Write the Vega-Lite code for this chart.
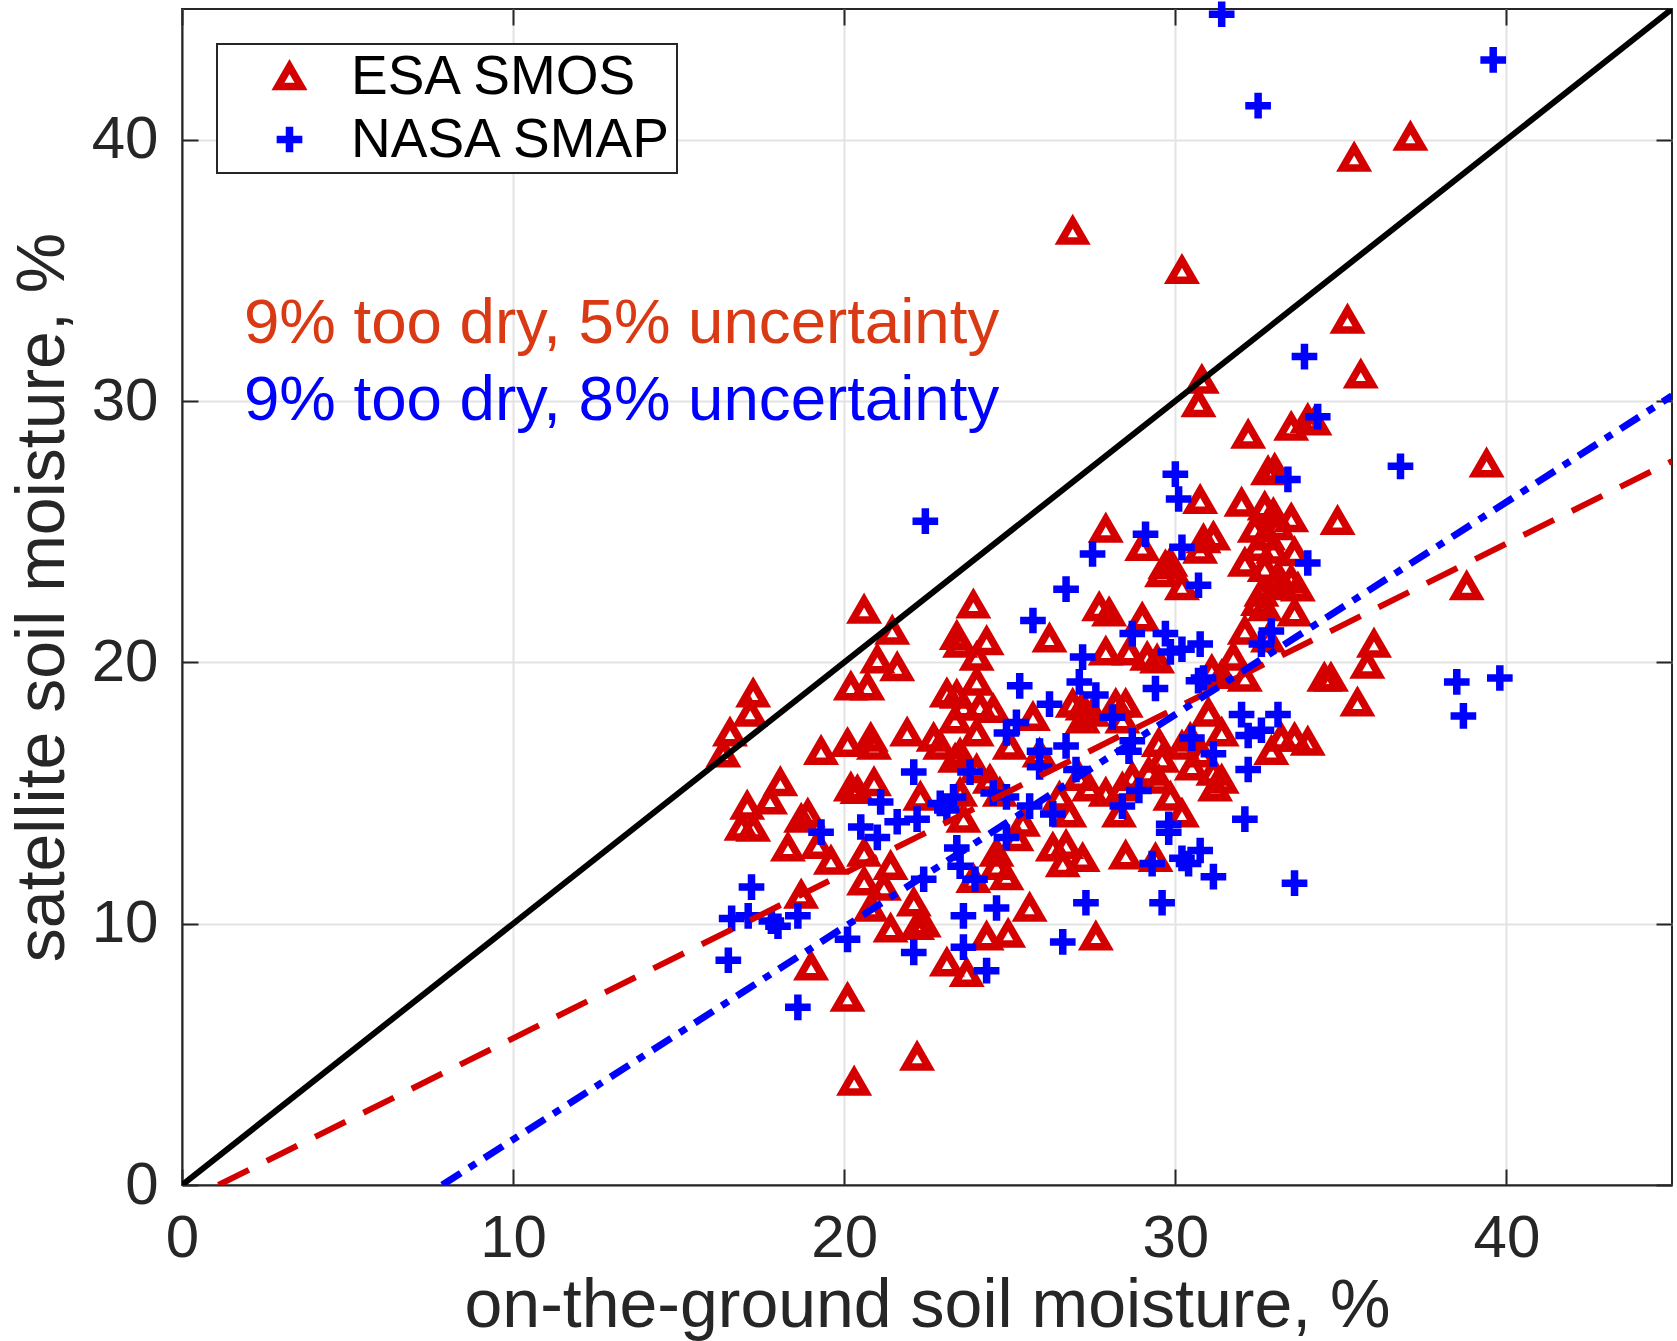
{
"$schema": "https://vega.github.io/schema/vega-lite/v6.json",
"autosize": {"type": "none"},
"width": 1490, "height": 1176,
"padding": {"left": 182, "top": 9, "right": 5, "bottom": 156},
"background": "white",
"datasets": {
"pts": [
{"ground":37.1,"satellite":40.1,"sensor":"ESA SMOS"},
{"ground":35.4,"satellite":39.3,"sensor":"ESA SMOS"},
{"ground":26.9,"satellite":36.5,"sensor":"ESA SMOS"},
{"ground":30.2,"satellite":35.0,"sensor":"ESA SMOS"},
{"ground":35.2,"satellite":33.1,"sensor":"ESA SMOS"},
{"ground":35.6,"satellite":31.0,"sensor":"ESA SMOS"},
{"ground":30.8,"satellite":30.8,"sensor":"ESA SMOS"},
{"ground":30.7,"satellite":29.9,"sensor":"ESA SMOS"},
{"ground":32.2,"satellite":28.7,"sensor":"ESA SMOS"},
{"ground":33.5,"satellite":29.0,"sensor":"ESA SMOS"},
{"ground":34.0,"satellite":29.3,"sensor":"ESA SMOS"},
{"ground":34.2,"satellite":29.2,"sensor":"ESA SMOS"},
{"ground":39.4,"satellite":27.6,"sensor":"ESA SMOS"},
{"ground":32.8,"satellite":27.3,"sensor":"ESA SMOS"},
{"ground":33.0,"satellite":27.4,"sensor":"ESA SMOS"},
{"ground":30.75,"satellite":26.2,"sensor":"ESA SMOS"},
{"ground":32.0,"satellite":26.1,"sensor":"ESA SMOS"},
{"ground":32.7,"satellite":25.95,"sensor":"ESA SMOS"},
{"ground":32.96,"satellite":25.7,"sensor":"ESA SMOS"},
{"ground":33.5,"satellite":25.5,"sensor":"ESA SMOS"},
{"ground":34.9,"satellite":25.4,"sensor":"ESA SMOS"},
{"ground":27.9,"satellite":25.1,"sensor":"ESA SMOS"},
{"ground":29.0,"satellite":24.4,"sensor":"ESA SMOS"},
{"ground":30.85,"satellite":24.7,"sensor":"ESA SMOS"},
{"ground":31.15,"satellite":24.8,"sensor":"ESA SMOS"},
{"ground":30.75,"satellite":24.3,"sensor":"ESA SMOS"},
{"ground":29.7,"satellite":23.7,"sensor":"ESA SMOS"},
{"ground":29.85,"satellite":23.8,"sensor":"ESA SMOS"},
{"ground":29.6,"satellite":23.4,"sensor":"ESA SMOS"},
{"ground":30.2,"satellite":22.9,"sensor":"ESA SMOS"},
{"ground":32.4,"satellite":25.1,"sensor":"ESA SMOS"},
{"ground":32.8,"satellite":24.8,"sensor":"ESA SMOS"},
{"ground":33.1,"satellite":25.2,"sensor":"ESA SMOS"},
{"ground":32.5,"satellite":24.4,"sensor":"ESA SMOS"},
{"ground":32.96,"satellite":24.3,"sensor":"ESA SMOS"},
{"ground":33.6,"satellite":24.2,"sensor":"ESA SMOS"},
{"ground":32.1,"satellite":23.8,"sensor":"ESA SMOS"},
{"ground":32.7,"satellite":23.6,"sensor":"ESA SMOS"},
{"ground":33.1,"satellite":23.3,"sensor":"ESA SMOS"},
{"ground":33.5,"satellite":23.15,"sensor":"ESA SMOS"},
{"ground":32.6,"satellite":22.65,"sensor":"ESA SMOS"},
{"ground":38.8,"satellite":22.9,"sensor":"ESA SMOS"},
{"ground":33.2,"satellite":22.9,"sensor":"ESA SMOS"},
{"ground":33.7,"satellite":22.85,"sensor":"ESA SMOS"},
{"ground":32.5,"satellite":22.3,"sensor":"ESA SMOS"},
{"ground":32.7,"satellite":22.1,"sensor":"ESA SMOS"},
{"ground":33.6,"satellite":21.9,"sensor":"ESA SMOS"},
{"ground":32.1,"satellite":21.2,"sensor":"ESA SMOS"},
{"ground":32.8,"satellite":20.9,"sensor":"ESA SMOS"},
{"ground":36.0,"satellite":20.7,"sensor":"ESA SMOS"},
{"ground":35.8,"satellite":19.9,"sensor":"ESA SMOS"},
{"ground":34.5,"satellite":19.4,"sensor":"ESA SMOS"},
{"ground":34.7,"satellite":19.4,"sensor":"ESA SMOS"},
{"ground":35.5,"satellite":18.45,"sensor":"ESA SMOS"},
{"ground":31.75,"satellite":20.2,"sensor":"ESA SMOS"},
{"ground":31.1,"satellite":19.7,"sensor":"ESA SMOS"},
{"ground":31.4,"satellite":19.5,"sensor":"ESA SMOS"},
{"ground":32.1,"satellite":19.4,"sensor":"ESA SMOS"},
{"ground":31.4,"satellite":17.3,"sensor":"ESA SMOS"},
{"ground":33.2,"satellite":17.1,"sensor":"ESA SMOS"},
{"ground":33.6,"satellite":17.1,"sensor":"ESA SMOS"},
{"ground":34.0,"satellite":16.95,"sensor":"ESA SMOS"},
{"ground":32.9,"satellite":16.6,"sensor":"ESA SMOS"},
{"ground":31.15,"satellite":15.8,"sensor":"ESA SMOS"},
{"ground":31.4,"satellite":15.5,"sensor":"ESA SMOS"},
{"ground":31.2,"satellite":15.2,"sensor":"ESA SMOS"},
{"ground":27.7,"satellite":22.1,"sensor":"ESA SMOS"},
{"ground":28.0,"satellite":21.9,"sensor":"ESA SMOS"},
{"ground":29.0,"satellite":21.7,"sensor":"ESA SMOS"},
{"ground":23.9,"satellite":22.2,"sensor":"ESA SMOS"},
{"ground":23.5,"satellite":20.7,"sensor":"ESA SMOS"},
{"ground":24.3,"satellite":20.8,"sensor":"ESA SMOS"},
{"ground":24.0,"satellite":20.2,"sensor":"ESA SMOS"},
{"ground":26.2,"satellite":20.9,"sensor":"ESA SMOS"},
{"ground":27.9,"satellite":20.4,"sensor":"ESA SMOS"},
{"ground":28.6,"satellite":20.4,"sensor":"ESA SMOS"},
{"ground":29.15,"satellite":20.2,"sensor":"ESA SMOS"},
{"ground":29.45,"satellite":20.1,"sensor":"ESA SMOS"},
{"ground":24.0,"satellite":19.25,"sensor":"ESA SMOS"},
{"ground":23.4,"satellite":18.75,"sensor":"ESA SMOS"},
{"ground":23.6,"satellite":18.3,"sensor":"ESA SMOS"},
{"ground":24.1,"satellite":18.3,"sensor":"ESA SMOS"},
{"ground":24.5,"satellite":18.2,"sensor":"ESA SMOS"},
{"ground":23.35,"satellite":17.8,"sensor":"ESA SMOS"},
{"ground":24.0,"satellite":17.3,"sensor":"ESA SMOS"},
{"ground":25.7,"satellite":17.9,"sensor":"ESA SMOS"},
{"ground":26.9,"satellite":18.4,"sensor":"ESA SMOS"},
{"ground":27.2,"satellite":18.3,"sensor":"ESA SMOS"},
{"ground":27.5,"satellite":18.06,"sensor":"ESA SMOS"},
{"ground":27.2,"satellite":17.8,"sensor":"ESA SMOS"},
{"ground":28.2,"satellite":18.4,"sensor":"ESA SMOS"},
{"ground":28.5,"satellite":18.4,"sensor":"ESA SMOS"},
{"ground":28.4,"satellite":17.8,"sensor":"ESA SMOS"},
{"ground":25.0,"satellite":16.8,"sensor":"ESA SMOS"},
{"ground":25.9,"satellite":16.5,"sensor":"ESA SMOS"},
{"ground":23.5,"satellite":16.5,"sensor":"ESA SMOS"},
{"ground":24.0,"satellite":15.9,"sensor":"ESA SMOS"},
{"ground":23.35,"satellite":16.3,"sensor":"ESA SMOS"},
{"ground":27.1,"satellite":15.6,"sensor":"ESA SMOS"},
{"ground":27.4,"satellite":15.2,"sensor":"ESA SMOS"},
{"ground":27.9,"satellite":15.0,"sensor":"ESA SMOS"},
{"ground":29.5,"satellite":16.9,"sensor":"ESA SMOS"},
{"ground":29.6,"satellite":16.3,"sensor":"ESA SMOS"},
{"ground":29.2,"satellite":15.8,"sensor":"ESA SMOS"},
{"ground":29.5,"satellite":15.5,"sensor":"ESA SMOS"},
{"ground":28.7,"satellite":15.6,"sensor":"ESA SMOS"},
{"ground":28.4,"satellite":15.2,"sensor":"ESA SMOS"},
{"ground":30.2,"satellite":16.8,"sensor":"ESA SMOS"},
{"ground":30.45,"satellite":17.1,"sensor":"ESA SMOS"},
{"ground":30.5,"satellite":16.0,"sensor":"ESA SMOS"},
{"ground":30.8,"satellite":16.5,"sensor":"ESA SMOS"},
{"ground":29.85,"satellite":14.85,"sensor":"ESA SMOS"},
{"ground":30.2,"satellite":14.2,"sensor":"ESA SMOS"},
{"ground":28.3,"satellite":14.2,"sensor":"ESA SMOS"},
{"ground":26.5,"satellite":14.85,"sensor":"ESA SMOS"},
{"ground":26.8,"satellite":14.2,"sensor":"ESA SMOS"},
{"ground":24.7,"satellite":15.0,"sensor":"ESA SMOS"},
{"ground":24.4,"satellite":15.5,"sensor":"ESA SMOS"},
{"ground":23.5,"satellite":15.0,"sensor":"ESA SMOS"},
{"ground":23.6,"satellite":14.0,"sensor":"ESA SMOS"},
{"ground":25.4,"satellite":13.85,"sensor":"ESA SMOS"},
{"ground":31.0,"satellite":18.06,"sensor":"ESA SMOS"},
{"ground":20.6,"satellite":22.0,"sensor":"ESA SMOS"},
{"ground":21.45,"satellite":21.2,"sensor":"ESA SMOS"},
{"ground":21.0,"satellite":20.1,"sensor":"ESA SMOS"},
{"ground":21.6,"satellite":19.8,"sensor":"ESA SMOS"},
{"ground":20.2,"satellite":19.06,"sensor":"ESA SMOS"},
{"ground":20.7,"satellite":19.06,"sensor":"ESA SMOS"},
{"ground":17.25,"satellite":18.8,"sensor":"ESA SMOS"},
{"ground":17.16,"satellite":18.06,"sensor":"ESA SMOS"},
{"ground":16.55,"satellite":17.3,"sensor":"ESA SMOS"},
{"ground":16.35,"satellite":16.5,"sensor":"ESA SMOS"},
{"ground":21.9,"satellite":17.3,"sensor":"ESA SMOS"},
{"ground":23.1,"satellite":18.8,"sensor":"ESA SMOS"},
{"ground":23.4,"satellite":21.0,"sensor":"ESA SMOS"},
{"ground":20.1,"satellite":16.9,"sensor":"ESA SMOS"},
{"ground":20.8,"satellite":17.1,"sensor":"ESA SMOS"},
{"ground":20.9,"satellite":16.8,"sensor":"ESA SMOS"},
{"ground":19.3,"satellite":16.6,"sensor":"ESA SMOS"},
{"ground":22.7,"satellite":17.1,"sensor":"ESA SMOS"},
{"ground":22.9,"satellite":16.8,"sensor":"ESA SMOS"},
{"ground":18.07,"satellite":15.4,"sensor":"ESA SMOS"},
{"ground":17.07,"satellite":14.5,"sensor":"ESA SMOS"},
{"ground":17.76,"satellite":14.7,"sensor":"ESA SMOS"},
{"ground":20.2,"satellite":15.2,"sensor":"ESA SMOS"},
{"ground":20.4,"satellite":15.1,"sensor":"ESA SMOS"},
{"ground":20.9,"satellite":15.4,"sensor":"ESA SMOS"},
{"ground":18.7,"satellite":14.0,"sensor":"ESA SMOS"},
{"ground":18.9,"satellite":14.2,"sensor":"ESA SMOS"},
{"ground":16.9,"satellite":13.7,"sensor":"ESA SMOS"},
{"ground":17.25,"satellite":13.66,"sensor":"ESA SMOS"},
{"ground":22.3,"satellite":14.85,"sensor":"ESA SMOS"},
{"ground":18.3,"satellite":12.9,"sensor":"ESA SMOS"},
{"ground":19.2,"satellite":13.0,"sensor":"ESA SMOS"},
{"ground":19.6,"satellite":12.4,"sensor":"ESA SMOS"},
{"ground":20.6,"satellite":12.7,"sensor":"ESA SMOS"},
{"ground":21.4,"satellite":12.2,"sensor":"ESA SMOS"},
{"ground":20.6,"satellite":11.6,"sensor":"ESA SMOS"},
{"ground":21.2,"satellite":11.4,"sensor":"ESA SMOS"},
{"ground":18.7,"satellite":11.1,"sensor":"ESA SMOS"},
{"ground":22.1,"satellite":10.8,"sensor":"ESA SMOS"},
{"ground":20.8,"satellite":10.6,"sensor":"ESA SMOS"},
{"ground":22.4,"satellite":10.0,"sensor":"ESA SMOS"},
{"ground":21.4,"satellite":9.8,"sensor":"ESA SMOS"},
{"ground":22.2,"satellite":9.9,"sensor":"ESA SMOS"},
{"ground":23.1,"satellite":8.5,"sensor":"ESA SMOS"},
{"ground":19.0,"satellite":8.35,"sensor":"ESA SMOS"},
{"ground":20.1,"satellite":7.15,"sensor":"ESA SMOS"},
{"ground":22.2,"satellite":4.9,"sensor":"ESA SMOS"},
{"ground":20.3,"satellite":3.94,"sensor":"ESA SMOS"},
{"ground":23.7,"satellite":8.1,"sensor":"ESA SMOS"},
{"ground":25.2,"satellite":13.3,"sensor":"ESA SMOS"},
{"ground":24.6,"satellite":12.7,"sensor":"ESA SMOS"},
{"ground":24.6,"satellite":12.2,"sensor":"ESA SMOS"},
{"ground":24.9,"satellite":11.8,"sensor":"ESA SMOS"},
{"ground":23.9,"satellite":11.7,"sensor":"ESA SMOS"},
{"ground":26.3,"satellite":12.9,"sensor":"ESA SMOS"},
{"ground":26.7,"satellite":13.0,"sensor":"ESA SMOS"},
{"ground":26.6,"satellite":12.3,"sensor":"ESA SMOS"},
{"ground":27.2,"satellite":12.5,"sensor":"ESA SMOS"},
{"ground":28.5,"satellite":12.6,"sensor":"ESA SMOS"},
{"ground":29.4,"satellite":12.5,"sensor":"ESA SMOS"},
{"ground":25.6,"satellite":10.6,"sensor":"ESA SMOS"},
{"ground":24.3,"satellite":9.5,"sensor":"ESA SMOS"},
{"ground":24.95,"satellite":9.6,"sensor":"ESA SMOS"},
{"ground":27.6,"satellite":9.5,"sensor":"ESA SMOS"},
{"ground":31.4,"satellite":44.8,"sensor":"NASA SMAP"},
{"ground":32.5,"satellite":41.3,"sensor":"NASA SMAP"},
{"ground":39.6,"satellite":43.05,"sensor":"NASA SMAP"},
{"ground":33.9,"satellite":31.7,"sensor":"NASA SMAP"},
{"ground":34.3,"satellite":29.4,"sensor":"NASA SMAP"},
{"ground":36.8,"satellite":27.5,"sensor":"NASA SMAP"},
{"ground":33.4,"satellite":27.0,"sensor":"NASA SMAP"},
{"ground":34.0,"satellite":23.8,"sensor":"NASA SMAP"},
{"ground":30.0,"satellite":27.2,"sensor":"NASA SMAP"},
{"ground":30.1,"satellite":26.25,"sensor":"NASA SMAP"},
{"ground":29.1,"satellite":24.9,"sensor":"NASA SMAP"},
{"ground":27.5,"satellite":24.15,"sensor":"NASA SMAP"},
{"ground":30.2,"satellite":24.4,"sensor":"NASA SMAP"},
{"ground":26.7,"satellite":22.8,"sensor":"NASA SMAP"},
{"ground":30.7,"satellite":22.95,"sensor":"NASA SMAP"},
{"ground":22.45,"satellite":25.4,"sensor":"NASA SMAP"},
{"ground":25.7,"satellite":21.6,"sensor":"NASA SMAP"},
{"ground":28.7,"satellite":21.1,"sensor":"NASA SMAP"},
{"ground":29.7,"satellite":21.1,"sensor":"NASA SMAP"},
{"ground":29.85,"satellite":20.4,"sensor":"NASA SMAP"},
{"ground":30.2,"satellite":20.5,"sensor":"NASA SMAP"},
{"ground":30.75,"satellite":20.7,"sensor":"NASA SMAP"},
{"ground":27.2,"satellite":20.2,"sensor":"NASA SMAP"},
{"ground":27.1,"satellite":19.25,"sensor":"NASA SMAP"},
{"ground":27.6,"satellite":18.75,"sensor":"NASA SMAP"},
{"ground":25.3,"satellite":19.1,"sensor":"NASA SMAP"},
{"ground":29.4,"satellite":19.0,"sensor":"NASA SMAP"},
{"ground":30.7,"satellite":19.3,"sensor":"NASA SMAP"},
{"ground":26.2,"satellite":18.4,"sensor":"NASA SMAP"},
{"ground":28.1,"satellite":17.9,"sensor":"NASA SMAP"},
{"ground":25.2,"satellite":17.7,"sensor":"NASA SMAP"},
{"ground":24.9,"satellite":17.3,"sensor":"NASA SMAP"},
{"ground":28.7,"satellite":17.0,"sensor":"NASA SMAP"},
{"ground":28.6,"satellite":16.6,"sensor":"NASA SMAP"},
{"ground":30.5,"satellite":17.1,"sensor":"NASA SMAP"},
{"ground":25.9,"satellite":16.6,"sensor":"NASA SMAP"},
{"ground":25.9,"satellite":16.0,"sensor":"NASA SMAP"},
{"ground":26.7,"satellite":16.8,"sensor":"NASA SMAP"},
{"ground":23.8,"satellite":15.8,"sensor":"NASA SMAP"},
{"ground":27.0,"satellite":15.9,"sensor":"NASA SMAP"},
{"ground":24.5,"satellite":15.0,"sensor":"NASA SMAP"},
{"ground":24.9,"satellite":14.85,"sensor":"NASA SMAP"},
{"ground":25.6,"satellite":14.5,"sensor":"NASA SMAP"},
{"ground":26.3,"satellite":14.2,"sensor":"NASA SMAP"},
{"ground":28.9,"satellite":15.1,"sensor":"NASA SMAP"},
{"ground":28.4,"satellite":14.5,"sensor":"NASA SMAP"},
{"ground":29.8,"satellite":13.8,"sensor":"NASA SMAP"},
{"ground":23.3,"satellite":14.85,"sensor":"NASA SMAP"},
{"ground":32.9,"satellite":21.2,"sensor":"NASA SMAP"},
{"ground":32.6,"satellite":20.7,"sensor":"NASA SMAP"},
{"ground":30.85,"satellite":19.4,"sensor":"NASA SMAP"},
{"ground":32.0,"satellite":18.0,"sensor":"NASA SMAP"},
{"ground":33.1,"satellite":18.0,"sensor":"NASA SMAP"},
{"ground":32.2,"satellite":17.2,"sensor":"NASA SMAP"},
{"ground":32.6,"satellite":17.4,"sensor":"NASA SMAP"},
{"ground":31.15,"satellite":16.5,"sensor":"NASA SMAP"},
{"ground":32.2,"satellite":15.9,"sensor":"NASA SMAP"},
{"ground":32.1,"satellite":14.0,"sensor":"NASA SMAP"},
{"ground":38.5,"satellite":19.25,"sensor":"NASA SMAP"},
{"ground":39.8,"satellite":19.4,"sensor":"NASA SMAP"},
{"ground":38.7,"satellite":17.95,"sensor":"NASA SMAP"},
{"ground":31.15,"satellite":11.8,"sensor":"NASA SMAP"},
{"ground":33.6,"satellite":11.55,"sensor":"NASA SMAP"},
{"ground":30.75,"satellite":12.8,"sensor":"NASA SMAP"},
{"ground":22.1,"satellite":15.8,"sensor":"NASA SMAP"},
{"ground":21.1,"satellite":14.66,"sensor":"NASA SMAP"},
{"ground":21.6,"satellite":13.9,"sensor":"NASA SMAP"},
{"ground":20.5,"satellite":13.7,"sensor":"NASA SMAP"},
{"ground":22.2,"satellite":14.0,"sensor":"NASA SMAP"},
{"ground":22.9,"satellite":14.6,"sensor":"NASA SMAP"},
{"ground":23.1,"satellite":14.35,"sensor":"NASA SMAP"},
{"ground":19.3,"satellite":13.5,"sensor":"NASA SMAP"},
{"ground":21.0,"satellite":13.3,"sensor":"NASA SMAP"},
{"ground":17.2,"satellite":11.4,"sensor":"NASA SMAP"},
{"ground":16.6,"satellite":10.2,"sensor":"NASA SMAP"},
{"ground":17.1,"satellite":10.3,"sensor":"NASA SMAP"},
{"ground":17.8,"satellite":10.1,"sensor":"NASA SMAP"},
{"ground":18.0,"satellite":9.9,"sensor":"NASA SMAP"},
{"ground":18.6,"satellite":10.3,"sensor":"NASA SMAP"},
{"ground":16.5,"satellite":8.6,"sensor":"NASA SMAP"},
{"ground":20.1,"satellite":9.4,"sensor":"NASA SMAP"},
{"ground":18.6,"satellite":6.8,"sensor":"NASA SMAP"},
{"ground":22.1,"satellite":8.9,"sensor":"NASA SMAP"},
{"ground":22.4,"satellite":11.7,"sensor":"NASA SMAP"},
{"ground":24.9,"satellite":13.3,"sensor":"NASA SMAP"},
{"ground":23.4,"satellite":12.9,"sensor":"NASA SMAP"},
{"ground":23.5,"satellite":12.2,"sensor":"NASA SMAP"},
{"ground":23.95,"satellite":11.7,"sensor":"NASA SMAP"},
{"ground":24.6,"satellite":10.6,"sensor":"NASA SMAP"},
{"ground":23.6,"satellite":10.3,"sensor":"NASA SMAP"},
{"ground":27.3,"satellite":10.8,"sensor":"NASA SMAP"},
{"ground":29.6,"satellite":10.8,"sensor":"NASA SMAP"},
{"ground":29.3,"satellite":12.3,"sensor":"NASA SMAP"},
{"ground":30.2,"satellite":12.5,"sensor":"NASA SMAP"},
{"ground":30.4,"satellite":12.3,"sensor":"NASA SMAP"},
{"ground":26.6,"satellite":9.3,"sensor":"NASA SMAP"},
{"ground":23.6,"satellite":9.1,"sensor":"NASA SMAP"},
{"ground":24.3,"satellite":8.2,"sensor":"NASA SMAP"},
{"ground":29.8,"satellite":13.5,"sensor":"NASA SMAP"}
],
"lines": [
{"line":"one-to-one","ground":0,"satellite":0},
{"line":"one-to-one","ground":45,"satellite":45},
{"line":"ESA fit","ground":1.1,"satellite":0},
{"line":"ESA fit","ground":45,"satellite":27.7},
{"line":"SMAP fit","ground":7.86,"satellite":0},
{"line":"SMAP fit","ground":45,"satellite":30.2}
],
"notes": [
{"ground":1.87,"satellite":32.95,"sensor":"ESA SMOS","note":"9% too dry, 5% uncertainty"},
{"ground":1.87,"satellite":30.0,"sensor":"NASA SMAP","note":"9% too dry, 8% uncertainty"}
]
},
"layer": [
{
"data": {"name": "pts"},
"mark": {"type": "point", "filled": false, "strokeWidth": 7.5, "size": 576, "opacity": 1},
"encoding": {
"x": {"field": "ground", "type": "quantitative", "scale": {"domain": [0, 45], "nice": false, "zero": false},
"axis": {"values": [0, 10, 20, 30, 40], "title": "on-the-ground soil moisture, %", "labelPadding": 40, "titlePadding": 4, "labelFlush": false}},
"y": {"field": "satellite", "type": "quantitative", "scale": {"domain": [0, 45], "nice": false, "zero": false},
"axis": {"values": [0, 10, 20, 30, 40], "title": "satellite soil moisture, %", "labelPadding": 40, "titlePadding": 14, "labelFlush": false}},
"color": {"field": "sensor", "type": "nominal", "scale": {"domain": ["ESA SMOS", "NASA SMAP"], "range": ["#D40000", "#0000FF"]},
"legend": {"orient": "none", "legendX": 35, "legendY": 35, "title": null, "padding": 5, "rowPadding": 6, "symbolOffset": 40, "labelOffset": 34, "labelFontSize": 55, "labelLimit": 600, "labelColor": "black", "labelFont": "Liberation Sans", "symbolSize": 576, "symbolStrokeWidth": 7.5, "fillColor": "white", "strokeColor": "#262626"}},
"shape": {"field": "sensor", "type": "nominal", "scale": {"domain": ["ESA SMOS", "NASA SMAP"], "range": ["M0,-0.83L0.96,0.83L-0.96,0.83Z", "M-1.07,0L1.07,0M0,-1.07L0,1.07"]}}
}
},
{
"data": {"name": "lines"},
"transform": [{"filter": "datum.line === 'one-to-one'"}],
"mark": {"type": "line", "color": "black", "strokeWidth": 6, "clip": true},
"encoding": {
"x": {"field": "ground", "type": "quantitative", "scale": {"domain": [0, 45], "nice": false, "zero": false},
"axis": {"orient": "top", "values": [0, 10, 20, 30, 40], "labels": false, "title": null, "grid": false, "domain": false}},
"y": {"field": "satellite", "type": "quantitative", "scale": {"domain": [0, 45], "nice": false, "zero": false},
"axis": {"orient": "right", "values": [0, 10, 20, 30, 40], "labels": false, "title": null, "grid": false, "domain": false}}
}
},
{
"data": {"name": "lines"},
"transform": [{"filter": "datum.line === 'ESA fit'"}],
"mark": {"type": "line", "color": "#D40000", "strokeWidth": 6, "strokeDash": [34, 20], "clip": true},
"encoding": {
"x": {"field": "ground", "type": "quantitative", "scale": {"domain": [0, 45], "nice": false, "zero": false}, "axis": null},
"y": {"field": "satellite", "type": "quantitative", "scale": {"domain": [0, 45], "nice": false, "zero": false}, "axis": null}
}
},
{
"data": {"name": "lines"},
"transform": [{"filter": "datum.line === 'SMAP fit'"}],
"mark": {"type": "line", "color": "#0000FF", "strokeWidth": 7, "strokeDash": [22, 10, 8, 10], "clip": true},
"encoding": {
"x": {"field": "ground", "type": "quantitative", "scale": {"domain": [0, 45], "nice": false, "zero": false}, "axis": null},
"y": {"field": "satellite", "type": "quantitative", "scale": {"domain": [0, 45], "nice": false, "zero": false}, "axis": null}
}
},
{
"data": {"name": "notes"},
"transform": [{"filter": "datum.sensor === 'ESA SMOS'"}],
"mark": {"type": "text", "align": "left", "baseline": "middle", "fontSize": 63.6, "font": "Liberation Sans", "color": "#D93A14"},
"encoding": {
"x": {"field": "ground", "type": "quantitative", "scale": {"domain": [0, 45], "nice": false, "zero": false}, "axis": null},
"y": {"field": "satellite", "type": "quantitative", "scale": {"domain": [0, 45], "nice": false, "zero": false}, "axis": null},
"text": {"field": "note"}
}
},
{
"data": {"name": "notes"},
"transform": [{"filter": "datum.sensor === 'NASA SMAP'"}],
"mark": {"type": "text", "align": "left", "baseline": "middle", "fontSize": 63.6, "font": "Liberation Sans", "color": "#0000FF"},
"encoding": {
"x": {"field": "ground", "type": "quantitative", "scale": {"domain": [0, 45], "nice": false, "zero": false}, "axis": null},
"y": {"field": "satellite", "type": "quantitative", "scale": {"domain": [0, 45], "nice": false, "zero": false}, "axis": null},
"text": {"field": "note"}
}
}
],
"resolve": {"axis": {"x": "independent", "y": "independent"}},
"config": {
"font": "Liberation Sans",
"view": {"stroke": "#262626", "strokeWidth": 2},
"axis": {"grid": true, "gridColor": "#E3E3E3", "gridWidth": 2, "domainColor": "#262626", "domainWidth": 2, "tickColor": "#262626", "tickWidth": 2, "tickSize": -16, "labelFontSize": 60, "labelColor": "#262626", "labelFont": "Liberation Sans", "titleFontSize": 68, "titleFontWeight": "normal", "titleColor": "#262626", "titleFont": "Liberation Sans"},
"legend": {"strokeWidth": 2}
}
}
